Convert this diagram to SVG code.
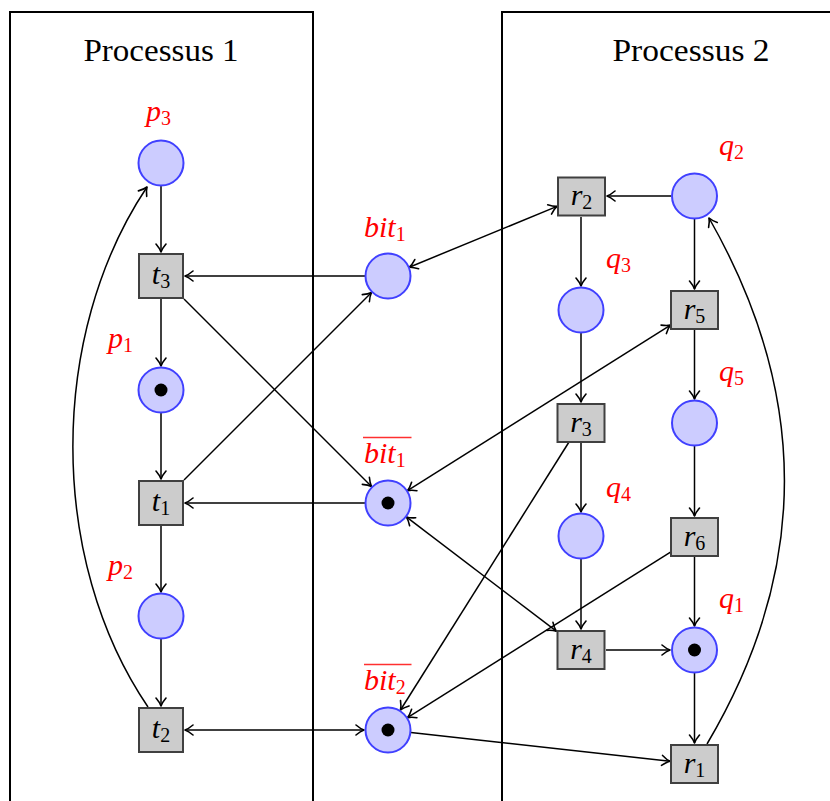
<svg xmlns="http://www.w3.org/2000/svg" width="830" height="801" viewBox="0 0 830 801">
  <style>
    .frame { fill: none; stroke: #000; stroke-width: 2; }
    .title { font-family: "Liberation Serif", "DejaVu Serif", serif; font-size: 32px; fill: #000; }
    .place { fill: #ccccff; stroke: #4040ff; stroke-width: 2; }
    .token { fill: #000; }
    .trans { fill: #cccccc; stroke: #404040; stroke-width: 2; }
    .lbl { font-family: "Liberation Serif", "DejaVu Serif", serif; font-style: italic; font-size: 30px; fill: #ff0000; }
    .name { font-family: "Liberation Serif", "DejaVu Serif", serif; font-style: italic; font-size: 30px; fill: #000; text-anchor: middle; }
    .sub { font-style: normal; font-size: 20px; }
    .bar { stroke: #ff3030; stroke-width: 1.3; }
    .edge { fill: none; stroke: #000; stroke-width: 1.5; }
    .a { marker-end: url(#arr); }
    .aa { marker-start: url(#arr); marker-end: url(#arr); }
  </style>
  <defs>
    <marker id="arr" viewBox="-10 -7 11 14" refX="0" refY="0" markerWidth="11" markerHeight="14" markerUnits="userSpaceOnUse" orient="auto-start-reverse">
      <path d="M-8,-5 Q-3.5,-1.2 0,0 Q-3.5,1.2 -8,5" fill="none" stroke="#000" stroke-width="1.6" stroke-linecap="round" stroke-linejoin="round"/>
    </marker>
  </defs>

  <rect width="830" height="801" fill="#fff"/>

  <!-- process frames (open at the bottom / right) -->
  <g id="processus1">
    <path class="frame" d="M10,801 V12 H313 V801"/>
    <text class="title" x="161" y="61" text-anchor="middle" textLength="155" lengthAdjust="spacingAndGlyphs">Processus 1</text>
  </g>
  <g id="processus2">
    <path class="frame" d="M502,801 V12 H830"/>
    <text class="title" x="691" y="61" text-anchor="middle" textLength="157" lengthAdjust="spacingAndGlyphs">Processus 2</text>
  </g>

  <!-- connectors -->
  <g id="connectors">
    <path class="edge a" d="M161,186 L161,252"/>
    <path class="edge a" d="M161,299 L161,366"/>
    <path class="edge a" d="M161,413 L161,479"/>
    <path class="edge a" d="M161,526 L161,592"/>
    <path class="edge a" d="M161,639 L161,706"/>
    <path class="edge a" d="M148,707 C48,560 48,335 147,187"/>
    <path class="edge a" d="M365,276 L185,276"/>
    <path class="edge a" d="M184,299 L371.5,486.5"/>
    <path class="edge a" d="M184,480 L371.5,292.5"/>
    <path class="edge a" d="M365,503 L185,503"/>
    <path class="edge aa" d="M185,730 L364,730"/>
    <path class="edge aa" d="M409.3,267.2 L557,206.4"/>
    <path class="edge a" d="M671,196 L607,196"/>
    <path class="edge a" d="M694.5,219 L694.5,289"/>
    <path class="edge a" d="M581,217 L581,286"/>
    <path class="edge a" d="M581,333 L581,402"/>
    <path class="edge a" d="M694.5,330 L694.5,399"/>
    <path class="edge aa" d="M670.5,325.1 L407.5,490.7"/>
    <path class="edge a" d="M581,443 L581,512"/>
    <path class="edge a" d="M569,442 L400.5,710"/>
    <path class="edge a" d="M694.5,446 L694.5,516"/>
    <path class="edge a" d="M581,559 L581,629"/>
    <path class="edge aa" d="M406.3,516.9 L556.3,631.2"/>
    <path class="edge a" d="M670.5,552.1 L407.5,717.7"/>
    <path class="edge a" d="M694.5,557 L694.5,626"/>
    <path class="edge a" d="M606,650 L670,650"/>
    <path class="edge a" d="M694.5,673 L694.5,743"/>
    <path class="edge a" d="M410.9,732.5 L670,761.3"/>
    <path class="edge a" d="M707,744 C810,570 810,395 709,218"/>
  </g>

  <!-- places of process 1 -->
  <g id="p3">
    <circle class="place" cx="161" cy="163" r="22.5"/>
    <text class="lbl" x="146" y="121">p<tspan class="sub" dy="4">3</tspan></text>
  </g>
  <g id="p1">
    <circle class="place" cx="161" cy="390" r="22.5"/>
    <circle class="token" cx="161" cy="390" r="6.5"/>
    <text class="lbl" x="108" y="348">p<tspan class="sub" dy="4">1</tspan></text>
  </g>
  <g id="p2">
    <circle class="place" cx="161" cy="616" r="22.5"/>
    <text class="lbl" x="108" y="575">p<tspan class="sub" dy="4">2</tspan></text>
  </g>

  <!-- transitions of process 1 -->
  <g id="t3">
    <rect class="trans" x="139" y="254" width="44" height="44"/>
    <text class="name" x="161" y="284">t<tspan class="sub" dy="4">3</tspan></text>
  </g>
  <g id="t1">
    <rect class="trans" x="139" y="481" width="44" height="44"/>
    <text class="name" x="161" y="511">t<tspan class="sub" dy="4">1</tspan></text>
  </g>
  <g id="t2">
    <rect class="trans" x="139" y="708" width="44" height="44"/>
    <text class="name" x="161" y="738">t<tspan class="sub" dy="4">2</tspan></text>
  </g>

  <!-- shared places -->
  <g id="bit1">
    <circle class="place" cx="388" cy="276" r="22.5"/>
    <text class="lbl" x="364" y="237">bit<tspan class="sub" dy="4">1</tspan></text>
  </g>
  <g id="bit1bar">
    <circle class="place" cx="388" cy="503" r="22.5"/>
    <circle class="token" cx="388" cy="503" r="6.5"/>
    <line class="bar" x1="363" y1="437.5" x2="411.5" y2="437.5"/>
    <text class="lbl" x="364" y="463">bit<tspan class="sub" dy="4">1</tspan></text>
  </g>
  <g id="bit2bar">
    <circle class="place" cx="388" cy="730" r="22.5"/>
    <circle class="token" cx="388" cy="730" r="6.5"/>
    <line class="bar" x1="364" y1="664.5" x2="411.5" y2="664.5"/>
    <text class="lbl" x="364" y="690">bit<tspan class="sub" dy="4">2</tspan></text>
  </g>

  <!-- places of process 2 -->
  <g id="q2">
    <circle class="place" cx="694.5" cy="196" r="22.5"/>
    <text class="lbl" x="719" y="155">q<tspan class="sub" dy="4">2</tspan></text>
  </g>
  <g id="q3">
    <circle class="place" cx="581" cy="310" r="22.5"/>
    <text class="lbl" x="606" y="268">q<tspan class="sub" dy="4">3</tspan></text>
  </g>
  <g id="q5">
    <circle class="place" cx="694.5" cy="423" r="22.5"/>
    <text class="lbl" x="719" y="381">q<tspan class="sub" dy="4">5</tspan></text>
  </g>
  <g id="q4">
    <circle class="place" cx="581" cy="536" r="22.5"/>
    <text class="lbl" x="606" y="497">q<tspan class="sub" dy="4">4</tspan></text>
  </g>
  <g id="q1">
    <circle class="place" cx="694.5" cy="650" r="22.5"/>
    <circle class="token" cx="694.5" cy="650" r="6.5"/>
    <text class="lbl" x="719" y="608">q<tspan class="sub" dy="4">1</tspan></text>
  </g>

  <!-- transitions of process 2 -->
  <g id="r2">
    <rect class="trans" x="558" y="177.5" width="47" height="38"/>
    <text class="name" x="581.5" y="205">r<tspan class="sub" dy="4">2</tspan></text>
  </g>
  <g id="r5">
    <rect class="trans" x="671" y="291" width="47" height="38"/>
    <text class="name" x="694.5" y="318.5">r<tspan class="sub" dy="4">5</tspan></text>
  </g>
  <g id="r3">
    <rect class="trans" x="557.5" y="404" width="47" height="38"/>
    <text class="name" x="581" y="431.5">r<tspan class="sub" dy="4">3</tspan></text>
  </g>
  <g id="r6">
    <rect class="trans" x="671" y="518" width="47" height="38"/>
    <text class="name" x="694.5" y="545.5">r<tspan class="sub" dy="4">6</tspan></text>
  </g>
  <g id="r4">
    <rect class="trans" x="557.5" y="631" width="47" height="38"/>
    <text class="name" x="581" y="658.5">r<tspan class="sub" dy="4">4</tspan></text>
  </g>
  <g id="r1">
    <rect class="trans" x="671" y="745" width="47" height="38"/>
    <text class="name" x="694.5" y="772.5">r<tspan class="sub" dy="4">1</tspan></text>
  </g>
</svg>
